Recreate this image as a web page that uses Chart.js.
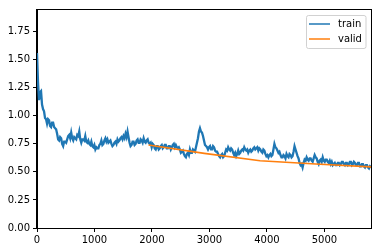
<!DOCTYPE html>
<html>
<head>
<meta charset="utf-8">
<script src="https://cdn.jsdelivr.net/npm/chart.js@4/dist/chart.umd.min.js"></script>
<style>
  html, body { margin: 0; padding: 0; background: #fff; }
</style>
</head>
<body>
<canvas id="lossChart" width="382" height="252"></canvas>
<script>
// training loss, one reading every 17.5 iterations
const trainStep = 17.5;
const trainLoss = [
  1.56, 1.30, 1.14, 1.21, 1.22, 1.10, 1.06, 1.04, 0.98, 0.97,
  0.93, 0.97, 0.96, 0.91, 0.90, 0.94, 0.94, 0.90, 0.89, 0.88,
  0.84, 0.79, 0.78, 0.81, 0.80, 0.75, 0.73, 0.77, 0.77, 0.76,
  0.79, 0.82, 0.83, 0.80, 0.85, 0.80, 0.78, 0.81, 0.80, 0.79,
  0.83, 0.82, 0.86, 0.79, 0.76, 0.79, 0.79, 0.78, 0.82, 0.77,
  0.76, 0.78, 0.75, 0.74, 0.77, 0.73, 0.72, 0.74, 0.70, 0.72,
  0.71, 0.71, 0.74, 0.75, 0.78, 0.74, 0.75, 0.78, 0.80, 0.77,
  0.79, 0.76, 0.77, 0.78, 0.75, 0.73, 0.74, 0.76, 0.77, 0.75,
  0.79, 0.77, 0.78, 0.80, 0.81, 0.79, 0.82, 0.80, 0.84, 0.81,
  0.86, 0.81, 0.76, 0.73, 0.74, 0.77, 0.77, 0.74, 0.75, 0.78,
  0.79, 0.76, 0.76, 0.79, 0.78, 0.76, 0.80, 0.77, 0.76, 0.78,
  0.79, 0.76, 0.75, 0.76, 0.72, 0.75, 0.74, 0.71, 0.70, 0.73,
  0.73, 0.70, 0.71, 0.73, 0.74, 0.71, 0.72, 0.74, 0.74, 0.71,
  0.71, 0.73, 0.73, 0.70, 0.72, 0.74, 0.75, 0.72, 0.74, 0.72,
  0.71, 0.72, 0.70, 0.67, 0.68, 0.69, 0.66, 0.64, 0.63, 0.66,
  0.67, 0.65, 0.70, 0.67, 0.67, 0.70, 0.69, 0.68, 0.72, 0.76,
  0.80, 0.86, 0.89, 0.86, 0.85, 0.82, 0.78, 0.74, 0.73, 0.72,
  0.70, 0.72, 0.73, 0.70, 0.70, 0.73, 0.72, 0.69, 0.68, 0.68,
  0.66, 0.64, 0.63, 0.65, 0.66, 0.63, 0.64, 0.67, 0.70, 0.69,
  0.72, 0.70, 0.69, 0.71, 0.70, 0.67, 0.65, 0.67, 0.64, 0.66,
  0.69, 0.66, 0.67, 0.69, 0.70, 0.69, 0.72, 0.70, 0.69, 0.70,
  0.67, 0.69, 0.70, 0.68, 0.69, 0.71, 0.72, 0.70, 0.71, 0.72,
  0.69, 0.71, 0.70, 0.68, 0.67, 0.70, 0.69, 0.66, 0.64, 0.65,
  0.63, 0.65, 0.66, 0.64, 0.65, 0.70, 0.75, 0.72, 0.71, 0.69,
  0.67, 0.68, 0.65, 0.63, 0.63, 0.65, 0.64, 0.62, 0.66, 0.64,
  0.63, 0.66, 0.65, 0.63, 0.64, 0.68, 0.73, 0.70, 0.67, 0.64,
  0.62, 0.58, 0.56, 0.57, 0.54, 0.58, 0.61, 0.60, 0.63, 0.61,
  0.60, 0.62, 0.62, 0.60, 0.59, 0.62, 0.65, 0.63, 0.62, 0.59,
  0.57, 0.60, 0.61, 0.59, 0.63, 0.60, 0.59, 0.61, 0.61, 0.59,
  0.58, 0.60, 0.57, 0.59, 0.56, 0.57, 0.58, 0.56, 0.56, 0.58,
  0.58, 0.56, 0.57, 0.59, 0.59, 0.57, 0.56, 0.58, 0.58, 0.56,
  0.57, 0.59, 0.59, 0.56, 0.57, 0.59, 0.58, 0.56, 0.56, 0.58,
  0.58, 0.55, 0.55, 0.57, 0.57, 0.55, 0.54, 0.56, 0.56, 0.54,
  0.53, 0.55, 0.54
];

// validation loss, once per epoch
const validIters = [1940, 2910, 3880, 4850, 5810];
const validLoss = [0.74, 0.665, 0.60, 0.57, 0.545];

const xTicks = [0, 1000, 2000, 3000, 4000, 5000];
const yTicks = [0, 0.25, 0.5, 0.75, 1.0, 1.25, 1.5, 1.75];

const trainPoints = trainLoss.map((v, i) => ({ x: i * trainStep, y: v }));
const validPoints = validLoss.map((v, i) => ({ x: validIters[i], y: v }));

const seriesNames = ['train', 'valid'];
const seriesColors = ['#1f77b4', '#ff7f0e'];

// box around the plot + matplotlib style legend
const framePlugin = {
    id: 'frame',
    afterDraw(chart) {
        const c = chart.ctx;
        const a = chart.chartArea;
        c.save();
        c.strokeStyle = '#000';
        c.lineWidth = 1;
        c.strokeRect(Math.round(a.left) - 0.5, Math.round(a.top) - 0.5,
            Math.round(a.right - a.left) + 1, Math.round(a.bottom - a.top) + 1);

        // legend
        const lx = 306.5, ly = 15.5, lw = 59.5, lh = 33;
        c.fillStyle = 'rgba(255,255,255,0.8)';
        c.strokeStyle = 'rgba(204,204,204,0.9)';
        c.beginPath();
        c.roundRect(lx, ly, lw, lh, 2);
        c.fill();
        c.stroke();
        c.font = '10px "DejaVu Sans"';
        c.textBaseline = 'middle';
        seriesNames.forEach((name, i) => {
            const y = 24 + i * 15;
            c.strokeStyle = seriesColors[i];
            c.lineWidth = 1.5;
            c.beginPath();
            c.moveTo(309, y);
            c.lineTo(330, y);
            c.stroke();
            c.fillStyle = '#000';
            c.fillText(name, 338, y);
        });
        c.restore();
    }
};

const ctx = document.getElementById('lossChart').getContext('2d');
const lossChart = new Chart(ctx, {
    type: 'line',
    data: {
        datasets: [{
            label: seriesNames[0],
            data: trainPoints,
            borderColor: seriesColors[0],
            borderWidth: 2.3,
            pointRadius: 0,
            tension: 0,
            order: 1
        }, {
            label: seriesNames[1],
            data: validPoints,
            borderColor: seriesColors[1],
            borderWidth: 1.6,
            pointRadius: 0,
            tension: 0,
            order: 0
        }]
    },
    options: {
        responsive: false,
        animation: false,
        devicePixelRatio: 1,
        layout: { padding: { top: 10, right: 11, left: 0, bottom: 0 } },
        plugins: {
            legend: { display: false },
            tooltip: { enabled: false }
        },
        scales: {
            x: {
                type: 'linear',
                min: 0,
                max: 5810,
                afterFit: s => { s.height = 24; },
                afterBuildTicks: s => { s.ticks = xTicks.map(v => ({ value: v })); },
                grid: { drawOnChartArea: false, drawTicks: true, tickLength: 4, color: '#000' },
                border: { display: true, color: '#000' },
                ticks: {
                    padding: 2,
                    color: '#000',
                    maxRotation: 0,
                    font: { family: 'DejaVu Sans', size: 10 },
                    callback: v => String(v)
                }
            },
            y: {
                min: 0,
                max: 1.943,
                afterFit: s => { s.width = 37; },
                afterBuildTicks: s => { s.ticks = yTicks.map(v => ({ value: v })); },
                grid: { drawOnChartArea: false, drawTicks: true, tickLength: 4, color: '#000' },
                border: { display: true, color: '#000' },
                ticks: {
                    padding: 3,
                    color: '#000',
                    font: { family: 'DejaVu Sans', size: 10 },
                    callback: v => v.toFixed(2)
                }
            }
        }
    },
    plugins: [framePlugin]
});
</script>
</body>
</html>
